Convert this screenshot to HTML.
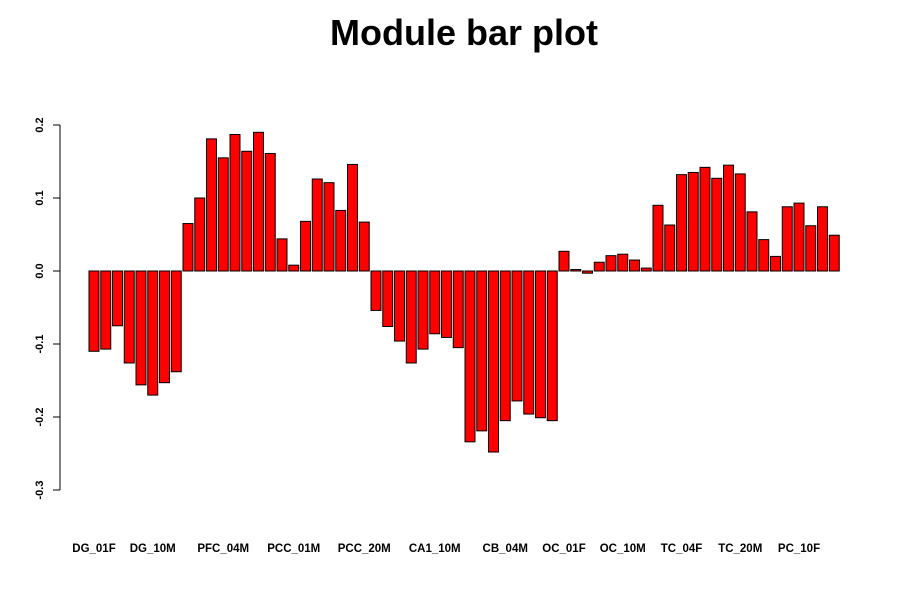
<!DOCTYPE html>
<html><head><meta charset="utf-8"><style>
body{margin:0;background:#fff}
svg text{font-family:"Liberation Sans",sans-serif;font-weight:bold}
</style></head><body>
<svg id="c" width="900" height="600" xmlns="http://www.w3.org/2000/svg">
<text x="464" y="45" text-anchor="middle" font-size="36">Module bar plot</text>
<g id="bars"></g>
<g id="yaxis"></g>
<g id="xlabels"></g>
</svg>
<script>
const values=[-0.11,-0.107,-0.075,-0.126,-0.156,-0.17,-0.153,-0.138,
0.065,0.1,0.181,0.155,0.187,0.164,0.19,0.161,0.044,0.008,0.068,0.126,0.121,0.083,0.146,0.067,
-0.054,-0.076,-0.096,-0.126,-0.107,-0.086,-0.091,-0.105,-0.234,-0.219,-0.248,-0.205,-0.178,-0.196,-0.201,-0.205,
0.027,0.002,-0.003,0.012,0.021,0.023,0.015,0.004,0.09,0.063,0.132,0.135,0.142,0.127,0.145,0.133,0.081,0.043,0.02,0.088,0.093,0.062,0.088,0.049];
const labels=["DG_01F","DG_10M","PFC_04M","PCC_01M","PCC_20M","CA1_10M","CB_04M","OC_01F","OC_10M","TC_04F","TC_20M","PC_10F"];
const labelIdx=[0,5,11,17,23,29,35,40,45,50,55,60];
const yTicks=[-0.3,-0.2,-0.1,0.0,0.1,0.2];
const yTickLabels=["-0.3","-0.2","-0.1","0.0","0.1","0.2"];
const NS="http://www.w3.org/2000/svg";
const y=v=>271-v*730;
const xc=i=>94+i*11.75;
const bw=10;
function mk(t,a,p){const e=document.createElementNS(NS,t);for(const k in a)e.setAttribute(k,a[k]);p.appendChild(e);return e;}
const bars=document.getElementById('bars');
values.forEach((v,i)=>{
 const r=mk('rect',{x:xc(i)-bw/2,y:Math.min(y(v),y(0)),width:bw,height:Math.max(Math.abs(y(v)-y(0)),0.5),fill:'#ff0000',stroke:'#000','stroke-width':1},bars);
 
 
});
const ya=document.getElementById('yaxis');
mk('line',{x1:60,x2:60,y1:y(0.2),y2:y(-0.3),stroke:'#000'},ya);
yTicks.forEach((t,i)=>{
 mk('line',{x1:53,x2:60,y1:y(t),y2:y(t),stroke:'#000'},ya);
 const tx=mk('text',{x:0,y:0,'font-size':11,'text-anchor':'middle',transform:`translate(43,${y(t)}) rotate(-90)`},ya);
 tx.textContent=yTickLabels[i];
 
 
});
const xl=document.getElementById('xlabels');
labels.forEach((l,i)=>{
 const t=mk('text',{x:xc(labelIdx[i]),y:552,'font-size':11.5,'text-anchor':'middle'},xl);
 t.textContent=l;
 
 
});
</script>
</body></html>
